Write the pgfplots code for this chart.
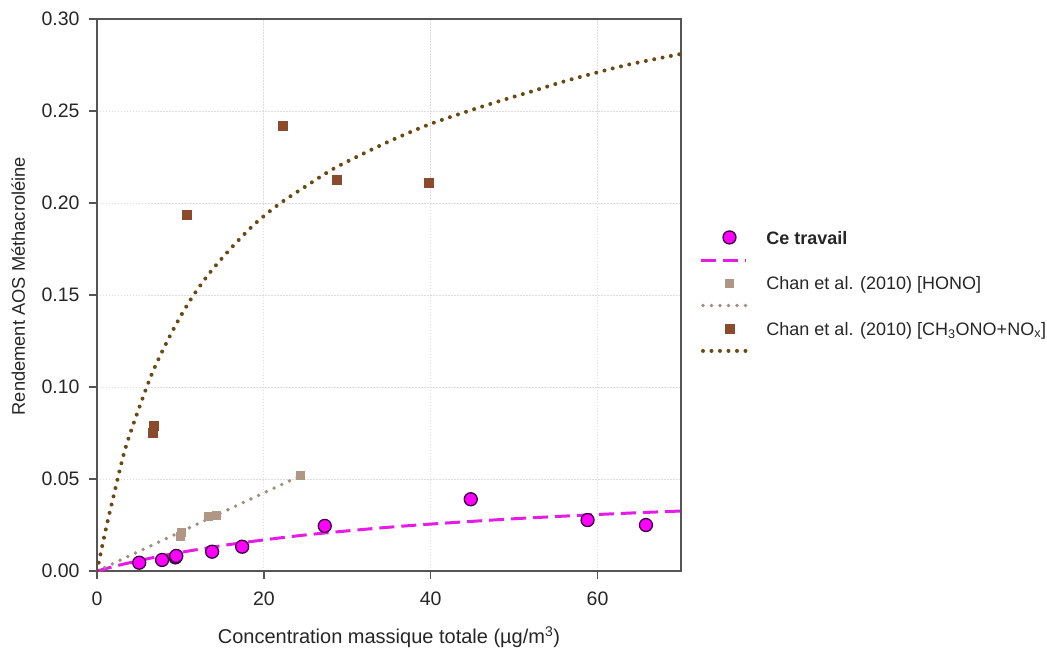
\documentclass[border=0pt]{standalone}
\usepackage{fontspec}
\setmainfont{Liberation Sans}
\usepackage{pgfplots}
\pgfplotsset{compat=1.18}
\definecolor{mag}{HTML}{FF00FF}
\definecolor{magline}{HTML}{E61CE6}
\definecolor{magedge}{HTML}{3A003F}
\definecolor{hono}{HTML}{B09684}
\definecolor{honoline}{HTML}{A08E80}
\definecolor{chan}{HTML}{8B4A2B}
\definecolor{chanline}{HTML}{6A4A12}
\definecolor{gridc}{HTML}{DCDCDC}
\definecolor{axc}{HTML}{555555}
\begin{document}
\begin{tikzpicture}
\path[use as bounding box] (-97pt,-78pt) rectangle (950pt,571pt);
\begin{axis}[
  at={(0pt,0pt)}, anchor=south west,
  scale only axis, width=584pt, height=552pt,
  xmin=0, xmax=70, ymin=0, ymax=0.30,
  xtick={0,20,40,60}, ytick={0,0.05,0.10,0.15,0.20,0.25,0.30},
  yticklabel style={xshift=-6pt, /pgf/number format/.cd, fixed, fixed zerofill, precision=2},
  /pgf/number format/assume math mode=true,
  tick label style={font=\fontsize{19.5}{23}\selectfont, text=black!85},
  xticklabel style={yshift=-9pt},
  label style={font=\fontsize{20}{24}\selectfont, text=black!85},
  grid=major, major grid style={gridc, dash pattern=on 1.5pt off 1.5pt, line width=1pt},
  tick align=outside, tick pos=left, major tick length=8pt,
  axis line style={axc, line width=1.5pt}, tick style={axc, line width=1.5pt},
  xlabel={Concentration massique totale (µg/m\textsuperscript{3})},
  ylabel={Rendement AOS Méthacroléine},
  xlabel style={at={(axis description cs:0.5,-0.12)}, anchor=center, font=\fontsize{20}{24}\selectfont},
  ylabel style={at={(axis description cs:-0.135,0.516)}, anchor=center, font=\fontsize{18.3}{22}\selectfont},
  legend style={draw=none, fill=none, inner sep=0pt, outer sep=0pt,
    at={(1.0325,0.6196)}, anchor=north west,
    font=\fontsize{18}{22}\selectfont, text=black!85,
    nodes={inner sep=0pt}, row sep=5.8pt},
  legend cell align=left,
]
% fitted curves
\addplot[magline, line width=3pt, dash pattern=on 15pt off 7pt, smooth, forget plot] coordinates {
(0,0) (2.5,0.0030) (5,0.0056) (7.5,0.0080) (10,0.0101) (15,0.0138) (20,0.0169) (25,0.0196) (30,0.0218) (35,0.0238) (40,0.0255) (45,0.0270) (50,0.0284) (55,0.0296) (60,0.0307) (65,0.0317) (70,0.0326)};
\addplot[honoline, line width=3.8pt, line cap=round, dash pattern=on 0pt off 8.5pt, forget plot] coordinates {(0,0) (24.5,0.052)};
\addplot[chanline, line width=4pt, line cap=round, dash pattern=on 0pt off 8.5pt, smooth, forget plot] coordinates {
(0,0) (1,0.0215) (2,0.0410) (3.36,0.0660) (5,0.0880) (6.75,0.1090) (9,0.1300) (11.15,0.1470) (13.5,0.1620) (16.3,0.1766) (19,0.1890) (21.85,0.1995) (25,0.2090) (28.3,0.2185) (32,0.2270) (36,0.2355) (40.3,0.2435) (46.9,0.2535) (52,0.2605) (56.7,0.2670) (63.5,0.2750) (70,0.2810)};
% data
\addplot[only marks, mark=square*, mark size=4pt, mark options={fill=hono, draw=hono}, forget plot] coordinates {
(10.0,0.0190) (10.1,0.0210) (13.3,0.0300) (14.3,0.0305) (24.4,0.0518)};
\addplot[only marks, mark=square*, mark size=4.5pt, mark options={fill=chan, draw=chan}, forget plot] coordinates {
(6.75,0.0788) (6.63,0.0752) (10.75,0.1938) (22.3,0.2418) (28.7,0.2129) (39.8,0.2109)};
\addplot[only marks, mark=*, mark size=6.5pt, mark options={fill=mag, draw=magedge, line width=1.3pt}, forget plot] coordinates {
(5.06,0.0045) (7.8,0.0060) (9.4,0.0074) (9.5,0.0082) (13.8,0.0105) (17.4,0.0132) (27.3,0.0245) (44.8,0.0390) (58.8,0.0277) (65.8,0.0250)};
% legend
\addlegendimage{legend image code/.code={\path[draw=none,fill=none] (0pt,-6pt) rectangle (65pt,6pt); \draw[fill=mag, draw=magedge, line width=1.3pt] (28pt,0pt) circle (6.5pt);}}
\addlegendentry{\strut\textbf{Ce travail}}
\addlegendimage{legend image code/.code={\path[draw=none,fill=none] (0pt,-6pt) rectangle (65pt,6pt); \draw[magline, line width=3pt, dash pattern=on 15pt off 7pt] (0pt,0pt) -- (45pt,0pt);}}
\addlegendentry{\strut}
\addlegendimage{legend image code/.code={\path[draw=none,fill=none] (0pt,-6pt) rectangle (65pt,6pt); \fill[hono] (24pt,-4pt) rectangle (32pt,4pt);}}
\addlegendentry{\strut Chan et al. (2010) [HONO]}
\addlegendimage{legend image code/.code={\path[draw=none,fill=none] (0pt,-6pt) rectangle (65pt,6pt); \draw[honoline, line width=3.8pt, line cap=round, dash pattern=on 0pt off 8.5pt] (1.5pt,0pt) -- (48pt,0pt);}}
\addlegendentry{\strut}
\addlegendimage{legend image code/.code={\path[draw=none,fill=none] (0pt,-6pt) rectangle (65pt,6pt); \fill[chan] (23.5pt,-4.5pt) rectangle (32.5pt,4.5pt);}}
\addlegendentry{\strut Chan et al. (2010) [CH\textsubscript{3}ONO+NO\textsubscript{x}]}
\addlegendimage{legend image code/.code={\path[draw=none,fill=none] (0pt,-6pt) rectangle (65pt,6pt); \draw[chanline, line width=4pt, line cap=round, dash pattern=on 0pt off 8.5pt] (1.5pt,0pt) -- (48pt,0pt);}}
\addlegendentry{\strut}
\end{axis}
\end{tikzpicture}
\end{document}
